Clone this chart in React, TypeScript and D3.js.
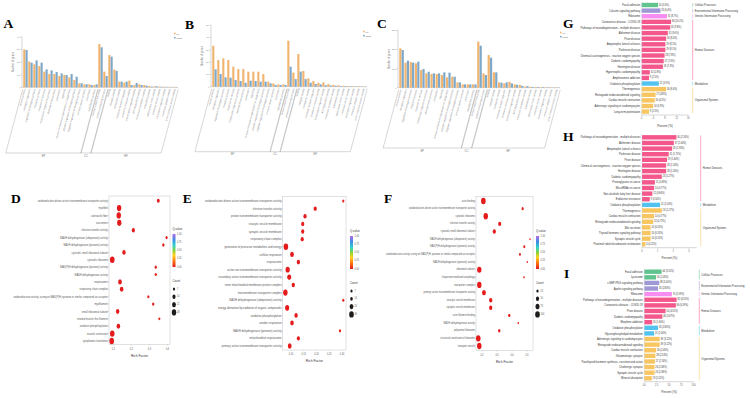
import React from "react";
import * as d3 from "d3";

const SANS = "Liberation Sans, Arial, sans-serif";
const SERIF = "Liberation Serif, Times New Roman, serif";

// ---------- GO level-2 classification (panels A-C) ----------
const goBP = [
  "cellular process",
  "biological regulation",
  "regulation of biological process",
  "metabolic process",
  "response to stimulus",
  "multicellular organismal process",
  "developmental process",
  "localization",
  "signaling",
  "cellular component organization or biogenesis",
  "positive regulation of biological process",
  "negative regulation of biological process",
  "immune system process",
  "locomotion",
  "reproductive process",
];
const goCC = ["cellular anatomical entity", "protein-containing complex"];
const goMF = [
  "binding",
  "catalytic activity",
  "transporter activity",
  "molecular function regulator",
  "structural molecule activity",
  "transcription regulator activity",
  "ATP-dependent activity",
  "molecular transducer activity",
  "antioxidant activity",
  "cytoskeletal motor activity",
  "molecular carrier activity",
  "translation regulator activity",
  "molecular adaptor activity",
  "small molecule sensor activity",
];
const goTerms = [...goBP, ...goCC, ...goMF];

const aUp = [300, 203, 182, 168, 124, 105, 105, 89, 97, 79, 58, 32, 24, 24, 18, 342, 124, 255, 140, 45, 37, 53, 18, 24, 18, 10, 6, 5, 4, 3, 2];
const aDown = [295, 195, 213, 195, 142, 134, 121, 110, 97, 105, 84, 32, 24, 18, 24, 316, 89, 242, 130, 45, 45, 18, 34, 18, 13, 5, 8, 4, 3, 2, 2];
const bUp = [332, 216, 230, 216, 162, 143, 143, 122, 122, 122, 103, 41, 27, 19, 19, 373, 114, 265, 127, 68, 46, 32, 35, 22, 15, 12, 8, 6, 5, 4, 3];
const bDown = [141, 103, 76, 73, 54, 46, 32, 49, 46, 41, 41, 27, 14, 14, 14, 162, 62, 122, 62, 32, 22, 19, 12, 10, 8, 6, 5, 4, 3, 2, 2];
const cUp = [2046, 1300, 1335, 1266, 919, 746, 711, 711, 659, 538, 572, 277, 173, 173, 173, 2393, 746, 1699, 798, 277, 225, 312, 173, 150, 60, 50, 40, 30, 25, 20, 15];
const cDown = [1960, 1405, 1300, 1352, 971, 832, 746, 746, 798, 780, 572, 277, 173, 173, 173, 2185, 659, 1561, 798, 260, 277, 225, 150, 100, 80, 40, 35, 30, 20, 15, 10];

const UP = "#f1b46e";
const DOWN = "#7ea8c9";

// ---------- GO enrichment bubbles (panels D-F) ----------
const dTerms = [
  "oxidoreduction-driven active transmembrane transporter activity",
  "myofibril",
  "contractile fiber",
  "sarcomere",
  "electron transfer activity",
  "NADH dehydrogenase (ubiquinone) activity",
  "NADH dehydrogenase (quinone) activity",
  "cytosolic small ribosomal subunit",
  "cytosolic ribosome",
  "NAD(P)H dehydrogenase (quinone) activity",
  "NADH dehydrogenase activity",
  "respirasome",
  "respiratory chain complex",
  "oxidoreductase activity, acting on NAD(P)H, quinone or similar compound as acceptor",
  "myofilament",
  "small ribosomal subunit",
  "striated muscle thin filament",
  "oxidative phosphorylation",
  "muscle contraction",
  "cytoplasmic translation",
];
const dRich = [0.349, 0.132, 0.13, 0.133, 0.211, 0.395, 0.377, 0.159, 0.094, 0.335, 0.335, 0.137, 0.146, 0.294, 0.321, 0.124, 0.355, 0.128, 0.094, 0.091];
const dCount = [12, 28, 28, 27, 14, 7, 8, 16, 30, 7, 7, 20, 18, 7, 8, 17, 6, 18, 29, 30];
const dQ = [0.004, 0, 0, 0, 0.002, 0.01, 0.01, 0.004, 0, 0.01, 0.01, 0.001, 0.001, 0.012, 0.01, 0.003, 0.02, 0.002, 0, 0];

const eTerms = [
  "oxidoreduction-driven active transmembrane transporter activity",
  "electron transfer activity",
  "proton transmembrane transporter activity",
  "exocytic vesicle membrane",
  "synaptic vesicle membrane",
  "respiratory chain complex",
  "generation of precursor metabolites and energy",
  "cellular respiration",
  "respirasome",
  "active ion transmembrane transporter activity",
  "secondary active transmembrane transporter activity",
  "inner mitochondrial membrane protein complex",
  "transmembrane transporter complex",
  "NADH dehydrogenase (ubiquinone) activity",
  "energy derivation by oxidation of organic compounds",
  "oxidative phosphorylation",
  "aerobic respiration",
  "NADH dehydrogenase (quinone) activity",
  "mitochondrial respirasome",
  "primary active transmembrane transporter activity",
];
const eRich = [0.305, 0.195, 0.155, 0.146, 0.146, 0.144, 0.08, 0.104, 0.129, 0.087, 0.093, 0.109, 0.078, 0.305, 0.085, 0.12, 0.104, 0.292, 0.129, 0.095];
const eCount = [7, 14, 15, 14, 14, 14, 30, 20, 16, 25, 22, 15, 28, 7, 24, 16, 18, 7, 14, 20];
const eQ = [0.02, 0.002, 0.002, 0.003, 0.003, 0.003, 0, 0.001, 0.002, 0, 0, 0.001, 0, 0.02, 0, 0.001, 0.001, 0.02, 0.002, 0];

const fTerms = [
  "actin binding",
  "oxidoreduction-driven active transmembrane transporter activity",
  "cytosolic ribosome",
  "electron transfer activity",
  "cytosolic small ribosomal subunit",
  "NADH dehydrogenase (ubiquinone) activity",
  "NAD(P)H dehydrogenase (quinone) activity",
  "oxidoreductase activity, acting on NAD(P)H, quinone or similar compound as acceptor",
  "NADH dehydrogenase (quinone) activity",
  "ribosomal subunit",
  "chaperone-mediated autophagy",
  "transporter complex",
  "primary active transmembrane transporter activity",
  "exocytic vesicle membrane",
  "synaptic vesicle membrane",
  "actin filament binding",
  "NADH dehydrogenase activity",
  "polysomal ribosome",
  "structural constituent of ribosome",
  "transport vesicle",
];
const fRich = [0.209, 0.471, 0.225, 0.318, 0.282, 0.52, 0.482, 0.453, 0.502, 0.182, 0.48, 0.182, 0.213, 0.258, 0.258, 0.382, 0.442, 0.315, 0.175, 0.182];
const fCount = [100, 22, 95, 45, 48, 10, 20, 18, 10, 90, 12, 92, 70, 50, 50, 25, 12, 28, 98, 95];
const fQ = [0, 0.01, 0, 0.002, 0.002, 0.02, 0.01, 0.01, 0.02, 0, 0.02, 0, 0, 0.001, 0.001, 0.005, 0.02, 0.004, 0, 0];

const qLegend = [1, 0.75, 0.5, 0.25, 0];
const qStops = [
  { o: 0, c: "#e41a1c" },
  { o: 0.2, c: "#ff7f11" },
  { o: 0.35, c: "#ffd21f" },
  { o: 0.5, c: "#86d33a" },
  { o: 0.65, c: "#2fd4c8" },
  { o: 0.82, c: "#3b8ee8" },
  { o: 1, c: "#b46ae4" },
];
const qColor = d3
  .scaleLinear<string>()
  .domain(qStops.map((s) => s.o))
  .range(qStops.map((s) => s.c));

// ---------- KEGG classification (panels G-I) ----------
const keggCats = [
  "Cellular Processes",
  "Environmental Information Processing",
  "Genetic Information Processing",
  "Human Diseases",
  "Metabolism",
  "Organismal Systems",
];
const keggColors = ["#5fc48e", "#9e98d4", "#f68ef2", "#f4578b", "#52c2ee", "#f8c660"];

const gPaths = [
  "Focal adhesion",
  "Calcium signaling pathway",
  "Ribosome",
  "Coronavirus disease - COVID-19",
  "Pathways of neurodegeneration - multiple diseases",
  "Alzheimer disease",
  "Prion disease",
  "Amyotrophic lateral sclerosis",
  "Parkinson disease",
  "Chemical carcinogenesis - reactive oxygen species",
  "Diabetic cardiomyopathy",
  "Huntington disease",
  "Hypertrophic cardiomyopathy",
  "Amphetamine addiction",
  "Oxidative phosphorylation",
  "Thermogenesis",
  "Retrograde endocannabinoid signaling",
  "Cardiac muscle contraction",
  "Adrenergic signaling in cardiomyocytes",
  "Long-term potentiation",
];
const gCounts = [20, 23, 31, 36, 35, 32, 30, 29, 29, 28, 27, 26, 10, 9, 21, 30, 17, 16, 14, 9];
const gCat = [0, 1, 2, 3, 3, 3, 3, 3, 3, 3, 3, 3, 3, 3, 4, 5, 5, 5, 5, 5];
const gTotal = 357;

const hPaths = [
  "Pathways of neurodegeneration - multiple diseases",
  "Alzheimer disease",
  "Amyotrophic lateral sclerosis",
  "Parkinson disease",
  "Prion disease",
  "Chemical carcinogenesis - reactive oxygen species",
  "Huntington disease",
  "Diabetic cardiomyopathy",
  "Proteoglycans in cancer",
  "MicroRNAs in cancer",
  "Non-alcoholic fatty liver disease",
  "Endocrine resistance",
  "Oxidative phosphorylation",
  "Thermogenesis",
  "Cardiac muscle contraction",
  "Retrograde endocannabinoid signaling",
  "Bile secretion",
  "Thyroid hormone signaling pathway",
  "Synaptic vesicle cycle",
  "Proximal tubule bicarbonate reclamation",
];
const hCounts = [40, 37, 35, 31, 29, 28, 28, 23, 15, 14, 12, 9, 21, 23, 14, 13, 10, 10, 10, 4];
const hCat = [3, 3, 3, 3, 3, 3, 3, 3, 3, 3, 3, 3, 4, 5, 5, 5, 5, 5, 5, 5];
const hTotal = 1818;

const iPaths = [
  "Focal adhesion",
  "Lysosome",
  "cGMP-PKG signaling pathway",
  "Apelin signaling pathway",
  "Ribosome",
  "Pathways of neurodegeneration - multiple diseases",
  "Coronavirus disease - COVID-19",
  "Prion disease",
  "Diabetic cardiomyopathy",
  "Morphine addiction",
  "Oxidative phosphorylation",
  "Glycerophospholipid metabolism",
  "Adrenergic signaling in cardiomyocytes",
  "Retrograde endocannabinoid signaling",
  "Cardiac muscle contraction",
  "Glutamatergic synapse",
  "Parathyroid hormone synthesis, secretion and action",
  "Cholinergic synapse",
  "Synaptic vesicle cycle",
  "Mineral absorption",
];
const iCounts = [44, 30, 38, 35, 70, 82, 80, 54, 46, 20, 35, 25, 39, 39, 30, 28, 27, 26, 26, 19];
const iCat = [0, 0, 1, 1, 2, 3, 3, 3, 3, 3, 4, 4, 5, 5, 5, 5, 5, 5, 5, 5];
const iTotal = 1252;

// narrow text: the figure's type is horizontally condensed
function Txt({ x, y, size, anchor = "start", fill = "#333", sx = 0.78, weight, family = SANS, rotate = 0, mid = false, children }: any) {
  return (
    <text
      transform={`translate(${x},${y})${rotate ? ` rotate(${rotate})` : ""} scale(${sx},1)`}
      fontSize={size}
      textAnchor={anchor}
      fill={fill}
      fontFamily={family}
      fontWeight={weight}
      dominantBaseline={mid ? "central" : undefined}
    >
      {children}
    </text>
  );
}

function GoPanel({ x0, x1, yTop, yBase, max, ticks, up, down, bracketY, legendX, legendY }: any) {
  const x = d3.scaleBand<string>().domain(goTerms).range([x0, x1]).paddingInner(0.12).paddingOuter(0.05);
  const sub = d3.scaleBand<string>().domain(["up", "down"]).range([0, x.bandwidth()]).paddingInner(0.08);
  const y = d3.scaleLinear().domain([0, max]).range([yBase, yTop]);
  const slant = Math.tan((15 * Math.PI) / 180);
  const lblTop = yBase + 2;
  const off = slant * (bracketY - lblTop);
  const groups = [
    { name: "BP", terms: goBP },
    { name: "CC", terms: goCC },
    { name: "MF", terms: goMF },
  ];
  return (
    <g>
      <line x1={x0 - 1} x2={x0 - 1} y1={yTop} y2={yBase} stroke="#999" strokeWidth={0.4} />
      {ticks.map((t: number) => (
        <g key={t}>
          <line x1={x0 - 2.2} x2={x0 - 1} y1={y(t)} y2={y(t)} stroke="#999" strokeWidth={0.4} />
          <Txt x={x0 - 2.8} y={y(t)} size={2.4} anchor="end" fill="#777" mid>
            {t}
          </Txt>
        </g>
      ))}
      <Txt x={x0 - 9} y={(yTop + yBase) / 2} size={2.6} anchor="middle" fill="#777" rotate={-90} sx={1}>
        Number of genes
      </Txt>
      <line x1={x0 - 1} x2={x1} y1={yBase} y2={yBase} stroke="#999" strokeWidth={0.4} />
      {goTerms.map((t, i) => (
        <g key={t}>
          <rect x={x(t)! + sub("up")!} y={y(up[i])} width={sub.bandwidth()} height={yBase - y(up[i])} fill={UP} />
          <rect x={x(t)! + sub("down")!} y={y(down[i])} width={sub.bandwidth()} height={yBase - y(down[i])} fill={DOWN} />
          <Txt x={x(t)! + x.bandwidth() / 2} y={lblTop} size={2.5} anchor="end" fill="#8a8a8a" rotate={-75} sx={1}>
            {t}
          </Txt>
        </g>
      ))}
      {groups.map((g) => {
        const lx = x(g.terms[0])! - 0.5;
        const rx = x(g.terms[g.terms.length - 1])! + x.bandwidth() + 0.5;
        return (
          <g key={g.name}>
            <path
              d={`M${lx},${lblTop} L${lx - off},${bracketY} L${rx - off},${bracketY} L${rx},${lblTop}`}
              fill="none"
              stroke="#999"
              strokeWidth={0.4}
            />
            <Txt x={(lx + rx) / 2 - off} y={bracketY + 3.6} size={2.6} anchor="middle" fill="#777" sx={1}>
              {g.name}
            </Txt>
          </g>
        );
      })}
      <rect x={legendX} y={legendY - 1.3} width={1.6} height={1.6} fill={UP} />
      <Txt x={legendX + 2.6} y={legendY} size={2.3} fill="#666" mid sx={1}>
        up
      </Txt>
      <rect x={legendX} y={legendY + 2.9} width={1.6} height={1.6} fill={DOWN} />
      <Txt x={legendX + 2.6} y={legendY + 4.2} size={2.3} fill="#666" mid sx={1}>
        down
      </Txt>
    </g>
  );
}

function DotPlot({ terms, rich, count, q, box, domain, ticks, digits, rowTop, rowBottom, fontSize, sizeMax, legendCounts, lx, ly }: any) {
  const [bx0, bx1, by0, by1] = box;
  const x = d3.scaleLinear().domain(domain).range([bx0, bx1]);
  const y = d3.scaleLinear().domain([0, terms.length - 1]).range([rowTop, rowBottom]);
  const r = d3.scaleSqrt().domain([0, sizeMax]).range([0, 2.3]);
  const barH = 33;
  return (
    <g>
      <rect x={bx0} y={by0} width={bx1 - bx0} height={by1 - by0} fill="#fff" stroke="#c4c4c4" strokeWidth={0.5} />
      {terms.map((t: string, i: number) => (
        <g key={t}>
          <Txt x={bx0 - 1.2} y={y(i)} size={fontSize} anchor="end" fill="#555" mid>
            {t}
          </Txt>
          <line x1={bx0 - 0.8} x2={bx0} y1={y(i)} y2={y(i)} stroke="#999" strokeWidth={0.3} />
          <ellipse cx={x(rich[i])} cy={y(i)} rx={r(count[i])} ry={r(count[i]) * 1.4} fill={qColor(q[i])} />
        </g>
      ))}
      {ticks.map((t: number) => (
        <g key={t}>
          <line x1={x(t)} x2={x(t)} y1={by1} y2={by1 + 1} stroke="#999" strokeWidth={0.3} />
          <Txt x={x(t)} y={by1 + 4.6} size={2.9} anchor="middle" fill="#555" mid>
            {t.toFixed(digits)}
          </Txt>
        </g>
      ))}
      <Txt x={(bx0 + bx1) / 2} y={by1 + 11} size={4.3} anchor="middle" fill="#333" mid>
        Rich Factor
      </Txt>
      <Txt x={lx} y={ly} size={3.6} fill="#333">
        Q-value
      </Txt>
      <rect x={lx} y={ly + 4} width={3} height={barH} fill="url(#qgrad)" />
      {qLegend.map((v, k) => (
        <Txt key={v} x={lx + 4.5} y={ly + 4 + (k * barH) / 4} size={2.9} fill="#555" mid>
          {v.toFixed(2)}
        </Txt>
      ))}
      <Txt x={lx} y={ly + 52} size={3.6} fill="#333">
        Count
      </Txt>
      {legendCounts.map((c: number, k: number) => (
        <g key={c}>
          <ellipse cx={lx + 1.5} cy={ly + 59 + k * 7.8} rx={r(c)} ry={r(c) * 1.4} fill="#1c1c1c" />
          <Txt x={lx + 4.5} y={ly + 59 + k * 7.8} size={2.9} fill="#555" mid>
            {c}
          </Txt>
        </g>
      ))}
    </g>
  );
}

function KeggPanel({ paths, counts, cats, total, digits, x0, xMax, xPx, ticks, tickDigits, bandTop, bandBottom, catX }: any) {
  const x = d3.scaleLinear().domain([0, xMax]).range([x0, x0 + xPx]);
  const y = d3.scaleBand<string>().domain(paths).range([bandTop, bandBottom]).paddingInner(0.22).paddingOuter(0.11);
  const pct = counts.map((c: number) => (c / total) * 100);
  const axisY = bandBottom + 0.6;
  const runs: { cat: number; from: number; to: number }[] = [];
  cats.forEach((c: number, i: number) => {
    const last = runs[runs.length - 1];
    if (last && last.cat === c) last.to = i;
    else runs.push({ cat: c, from: i, to: i });
  });
  const mid = (p: string) => y(p)! + y.bandwidth() / 2;
  return (
    <g>
      {paths.map((p: string, i: number) => (
        <g key={p}>
          <rect x={x(0)} y={y(p)} width={x(pct[i]) - x(0)} height={y.bandwidth()} fill={keggColors[cats[i]]} />
          <Txt x={x0 - 1.5} y={mid(p)} size={3.4} anchor="end" fill="#333" mid>
            {p}
          </Txt>
          <Txt x={x(pct[i]) + 0.8} y={mid(p)} size={3.0} fill="#333" mid>
            {`${counts[i]} (${pct[i].toFixed(digits)}%)`}
          </Txt>
        </g>
      ))}
      <line x1={x0} x2={x0} y1={bandTop} y2={axisY} stroke="#bbb" strokeWidth={0.3} />
      <line x1={x0} x2={x0 + xPx} y1={axisY} y2={axisY} stroke="#999" strokeWidth={0.4} />
      {ticks.map((t: number) => (
        <g key={t}>
          <line x1={x(t)} x2={x(t)} y1={axisY} y2={axisY + 1} stroke="#999" strokeWidth={0.3} />
          <Txt x={x(t)} y={axisY + 3.5} size={2.9} anchor="middle" fill="#555" mid>
            {t.toFixed(tickDigits)}
          </Txt>
        </g>
      ))}
      <Txt x={x0 + xPx / 2} y={axisY + 10.5} size={3.8} anchor="middle" fill="#333" mid>
        Percent (%)
      </Txt>
      {runs.map((g) => {
        const top = y(paths[g.from])! + 0.3;
        const bot = y(paths[g.to])! + y.bandwidth() - 0.3;
        return (
          <g key={g.cat}>
            <line x1={catX} x2={catX} y1={top} y2={bot} stroke={keggColors[g.cat]} strokeWidth={0.5} />
            <Txt x={catX + 2} y={(top + bot) / 2} size={3.3} fill="#333" mid>
              {keggCats[g.cat]}
            </Txt>
          </g>
        );
      })}
    </g>
  );
}

const letters = [
  { t: "A", x: 3.5, y: 28.3 },
  { t: "B", x: 185, y: 28.7 },
  { t: "C", x: 377, y: 28.3 },
  { t: "D", x: 11, y: 203 },
  { t: "E", x: 182.7, y: 203 },
  { t: "F", x: 384, y: 202.7 },
  { t: "G", x: 563, y: 28.3 },
  { t: "H", x: 563, y: 140.7 },
  { t: "I", x: 564, y: 278.3 },
];

export default function App() {
  return (
    <svg width={750} height={398} viewBox="0 0 750 398" style={{ position: "absolute", left: 0, top: 0, background: "#fff" }}>
      <defs>
        <linearGradient id="qgrad" x1="0" y1="1" x2="0" y2="0">
          {qStops.map((s) => (
            <stop key={s.o} offset={s.o} stopColor={s.c} />
          ))}
        </linearGradient>
      </defs>
      <rect width={750} height={398} fill="#fff" />

      <GoPanel x0={23} x1={178} yTop={36.7} yBase={87.3} max={400} ticks={[0, 100, 200, 300, 400]} up={aUp} down={aDown} bracketY={153} legendX={174} legendY={34} />
      <GoPanel x0={212} x1={367} yTop={25} yBase={86.7} max={500} ticks={[0, 100, 200, 300, 400, 500]} up={bUp} down={bDown} bracketY={151.7} legendX={363} legendY={32} />
      <GoPanel x0={399} x1={560} yTop={30} yBase={87.7} max={3000} ticks={[0, 1000, 2000, 3000]} up={cUp} down={cDown} bracketY={148} legendX={560} legendY={33} />

      <DotPlot terms={dTerms} rich={dRich} count={dCount} q={dQ} box={[109, 170, 196, 344.5]} domain={[0.076, 0.414]} ticks={[0.1, 0.2, 0.3, 0.4]} digits={1}
        rowTop={200.7} rowBottom={341} fontSize={3.2} sizeMax={30} legendCounts={[7, 14, 21, 28]} lx={172.5} ly={230} />
      <DotPlot terms={eTerms} rich={eRich} count={eCount} q={eQ} box={[282.7, 346, 196.7, 350]} domain={[0.0675, 0.3157]} ticks={[0.1, 0.15, 0.2, 0.25, 0.3]} digits={2}
        rowTop={201} rowBottom={346} fontSize={3.5} sizeMax={30} legendCounts={[7, 10, 20, 30]} lx={350} ly={232} />
      <DotPlot terms={fTerms} rich={fRich} count={fCount} q={fQ} box={[476, 533, 196.7, 350.7]} domain={[0.16, 0.54]} ticks={[0.2, 0.3, 0.4, 0.5]} digits={1}
        rowTop={201} rowBottom={346} fontSize={3.0} sizeMax={100} legendCounts={[25, 50, 75, 100]} lx={536} ly={232} />

      <KeggPanel paths={gPaths} counts={gCounts} cats={gCat} total={gTotal} digits={1} x0={641.7} xMax={16} xPx={46.6} ticks={[0, 4, 8, 12, 16]} tickDigits={0}
        bandTop={2.2} bandBottom={114.4} catX={692.7} />
      <KeggPanel paths={hPaths} counts={hCounts} cats={hCat} total={hTotal} digits={2} x0={642} xMax={3.5} xPx={54.8} ticks={[0, 1, 2, 3]} tickDigits={0}
        bandTop={134.5} bandBottom={247.1} catX={700.7} />
      <KeggPanel paths={iPaths} counts={iCounts} cats={iCat} total={iTotal} digits={2} x0={644.3} xMax={10} xPx={49.3} ticks={[0, 2.5, 5, 7.5, 10]} tickDigits={1}
        bandTop={268.9} bandBottom={381.1} catX={699.3} />

      {letters.map((l) => (
        <text key={l.t} x={l.x} y={l.y} fontFamily={SERIF} fontWeight="bold" fontSize={13.5} fill="#000">
          {l.t}
        </text>
      ))}
    </svg>
  );
}
